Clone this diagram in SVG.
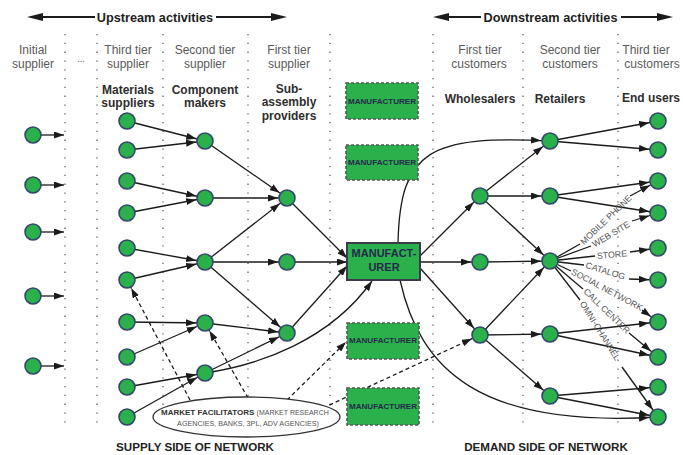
<svg xmlns="http://www.w3.org/2000/svg" width="683" height="455" viewBox="0 0 683 455">
<defs>
  <!-- arrowhead that stops at the rim of a round node (line ends at node centre) -->
  <marker id="an" markerUnits="userSpaceOnUse" markerWidth="10" markerHeight="7" refX="19" refY="3.5" orient="auto">
    <path d="M0,0L10,3.5L0,7z" fill="#1b1b1b"/>
  </marker>
  <!-- arrowhead whose tip sits exactly on the line end -->
  <marker id="ab" markerUnits="userSpaceOnUse" markerWidth="10" markerHeight="7" refX="10" refY="3.5" orient="auto">
    <path d="M0,0L10,3.5L0,7z" fill="#1b1b1b"/>
  </marker>
</defs>
<style>
  text{font-family:"Liberation Sans",Arial,Helvetica,sans-serif}
  .hd{font-size:12.7px;font-weight:bold;fill:#1e1e1e;text-anchor:middle}
  .col{font-size:12px;fill:#5a5a5a;text-anchor:middle}
  .bl{font-size:12px;font-weight:bold;fill:#2e2e2e;text-anchor:middle}
  .ft{font-size:11.6px;font-weight:bold;fill:#222;text-anchor:middle}
  .ch{font-size:8.8px;fill:#555}
  .grid line{stroke:#6d6d6d;stroke-width:1.4;stroke-dasharray:1.3 7.5}
  .c line,.c path{stroke:#1b1b1b;stroke-width:1.3;fill:none}
  .n{marker-end:url(#an)}
  .b{marker-end:url(#ab)}
  .dash{stroke-dasharray:4 3}
  .hdr line{stroke:#1b1b1b;stroke-width:1.8}
  .hdr polygon{fill:#1b1b1b}
  circle{fill:#2bb14b;stroke:#35486a;stroke-width:1.6}
  .mb{fill:#2bb14b;stroke:#555;stroke-width:1.6;stroke-dasharray:3 2}
  .mt{font-size:7.8px;font-weight:bold;fill:#26294d;text-anchor:middle}
  .mm{font-size:11px;font-weight:bold;fill:#26294d;text-anchor:middle}
</style>

<!-- header arrows -->
<g class="hdr">
  <line x1="40" y1="17" x2="95" y2="17"/>
  <polygon points="27,17 43,13 43,21"/>
  <line x1="216" y1="17" x2="274" y2="17"/>
  <polygon points="287,17 271,13 271,21"/>
  <text class="hd" x="155" y="21.5">Upstream activities</text>
  <line x1="446" y1="17" x2="481" y2="17"/>
  <polygon points="433,17 449,13 449,21"/>
  <line x1="621" y1="17" x2="660" y2="17"/>
  <polygon points="673,17 657,13 657,21"/>
  <text class="hd" x="550.5" y="21.5">Downstream activities</text>
</g>

<!-- tier separators -->
<g class="grid">
  <line x1="65" y1="34" x2="65" y2="426"/>
  <line x1="97" y1="34" x2="97" y2="426"/>
  <line x1="163" y1="34" x2="163" y2="426"/>
  <line x1="248" y1="34" x2="248" y2="426"/>
  <line x1="330" y1="34" x2="330" y2="426"/>
  <line x1="433" y1="34" x2="433" y2="426"/>
  <line x1="523" y1="34" x2="523" y2="426"/>
  <line x1="618" y1="34" x2="618" y2="426"/>
</g>

<!-- column headings -->
<g>
  <text class="col" x="33" y="53.5">Initial</text>
  <text class="col" x="33" y="68">supplier</text>
  <text class="col" x="81" y="62" style="font-size:9px">...</text>
  <text class="col" x="128" y="53.5">Third tier</text>
  <text class="col" x="128" y="68">supplier</text>
  <text class="col" x="205" y="53.5">Second tier</text>
  <text class="col" x="205" y="68">supplier</text>
  <text class="col" x="289" y="53.5">First tier</text>
  <text class="col" x="289" y="68">supplier</text>
  <text class="col" x="480" y="53.5">First tier</text>
  <text class="col" x="479" y="68">customers</text>
  <text class="col" x="570" y="53.5">Second tier</text>
  <text class="col" x="570" y="68">customers</text>
  <text class="col" x="646" y="53.5">Third tier</text>
  <text class="col" x="652" y="68">customers</text>

  <text class="bl" x="128" y="93.5">Materials</text>
  <text class="bl" x="128" y="106.5">suppliers</text>
  <text class="bl" x="205" y="93.5">Component</text>
  <text class="bl" x="205" y="106.5">makers</text>
  <text class="bl" x="289" y="92.5">Sub-</text>
  <text class="bl" x="289" y="106">assembly</text>
  <text class="bl" x="289" y="119.5">providers</text>
  <text class="bl" x="480" y="103">Wholesalers</text>
  <text class="bl" x="560" y="103">Retailers</text>
  <text class="bl" x="651" y="101.5">End users</text>
</g>

<!-- connectors -->
<g id="connectors" class="c">
  <!-- initial suppliers -->
  <line class="b" x1="33" y1="135" x2="64" y2="135"/>
  <line class="b" x1="33" y1="185" x2="64" y2="185"/>
  <line class="b" x1="33" y1="232" x2="64" y2="232"/>
  <line class="b" x1="33" y1="296" x2="64" y2="296"/>
  <line class="b" x1="33" y1="366" x2="64" y2="366"/>
  <!-- third tier to second tier -->
  <line class="n" x1="127" y1="121" x2="205" y2="141"/>
  <line class="n" x1="127" y1="150" x2="205" y2="141"/>
  <line class="n" x1="127" y1="181" x2="205" y2="198"/>
  <line class="n" x1="127" y1="213" x2="205" y2="198"/>
  <line class="n" x1="127" y1="248" x2="205" y2="262"/>
  <line class="n" x1="127" y1="280" x2="205" y2="262"/>
  <line class="n" x1="127" y1="322" x2="205" y2="323"/>
  <line class="n" x1="127" y1="357" x2="205" y2="323"/>
  <line class="n" x1="127" y1="387" x2="205" y2="373"/>
  <line class="n" x1="127" y1="417" x2="205" y2="373"/>
  <!-- second tier to first tier -->
  <line class="n" x1="205" y1="141" x2="287" y2="198"/>
  <line class="n" x1="205" y1="198" x2="287" y2="198"/>
  <line class="n" x1="205" y1="262" x2="287" y2="198"/>
  <line class="n" x1="205" y1="262" x2="287" y2="262"/>
  <line class="n" x1="205" y1="262" x2="287" y2="333"/>
  <line class="n" x1="205" y1="323" x2="287" y2="333"/>
  <line class="n" x1="205" y1="373" x2="287" y2="333"/>
  <path class="b" d="M205,373 C260,365 330,340 372,281"/>
  <!-- first tier to manufacturer -->
  <line class="b" x1="287" y1="198" x2="347" y2="258"/>
  <line class="b" x1="287" y1="262" x2="347" y2="262"/>
  <line class="b" x1="287" y1="333" x2="347" y2="266"/>
  <!-- manufacturer to customers -->
  <line class="n" x1="420" y1="256" x2="480" y2="196"/>
  <line class="n" x1="420" y1="262" x2="480" y2="262"/>
  <line class="n" x1="420" y1="268" x2="480" y2="335"/>
  <path class="n" d="M398,243 C400,150 430,135 550,141"/>
  <path class="n" d="M400,280 C420,370 480,428 658,417"/>
  <!-- wholesalers to retailers -->
  <line class="n" x1="480" y1="196" x2="550" y2="141"/>
  <line class="n" x1="480" y1="196" x2="550" y2="196"/>
  <line class="n" x1="480" y1="196" x2="550" y2="261"/>
  <line class="n" x1="480" y1="262" x2="550" y2="261"/>
  <line class="n" x1="480" y1="335" x2="550" y2="261"/>
  <line class="n" x1="480" y1="335" x2="550" y2="334"/>
  <line class="n" x1="480" y1="335" x2="550" y2="396"/>
  <!-- retailers to end users -->
  <line class="n" x1="550" y1="141" x2="658" y2="121"/>
  <line class="n" x1="550" y1="141" x2="658" y2="150"/>
  <line class="n" x1="550" y1="196" x2="658" y2="181"/>
  <line class="n" x1="550" y1="196" x2="658" y2="213"/>
  <line class="n" x1="550" y1="334" x2="658" y2="322"/>
  <line class="n" x1="550" y1="334" x2="658" y2="357"/>
  <line class="n" x1="550" y1="396" x2="658" y2="387"/>
  <line class="n" x1="550" y1="396" x2="658" y2="417"/>
  <!-- sales channels -->
  <line x1="550" y1="261" x2="580" y2="244"/>
  <line class="n" x1="630" y1="196" x2="658" y2="181"/>
  <line x1="550" y1="261" x2="591" y2="246"/>
  <line class="n" x1="632" y1="221" x2="658" y2="213"/>
  <line x1="550" y1="261" x2="595" y2="256"/>
  <line class="n" x1="630" y1="252" x2="658" y2="248"/>
  <line x1="550" y1="261" x2="584" y2="265"/>
  <line class="n" x1="629" y1="279" x2="658" y2="280"/>
  <line x1="550" y1="261" x2="571" y2="271"/>
  <line class="n" x1="642" y1="310" x2="658" y2="322"/>
  <line x1="550" y1="261" x2="583" y2="289"/>
  <line class="n" x1="629" y1="333" x2="658" y2="357"/>
  <line x1="550" y1="261" x2="580" y2="300"/>
  <line class="n" x1="622" y1="367" x2="658" y2="417"/>
  <!-- market facilitators -->
  <line class="n dash" x1="190" y1="400" x2="127" y2="280"/>
  <line class="n dash" x1="248" y1="398" x2="205" y2="323"/>
  <line class="b dash" x1="287" y1="400" x2="346" y2="342"/>
  <line class="n dash" x1="323" y1="408" x2="480" y2="335"/>
</g>

<!-- channel labels -->
<g>
  <text class="ch" transform="translate(582,243) rotate(-44)" dy="3">MOBILE PHONE</text>
  <text class="ch" transform="translate(593,245) rotate(-31)" dy="3">WEB SITE</text>
  <text class="ch" transform="translate(597,256) rotate(-5)" dy="3">STORE</text>
  <text class="ch" transform="translate(586,265) rotate(17)" dy="3">CATALOG</text>
  <text class="ch" transform="translate(572,271) rotate(28)" dy="3">SOCIAL NETWORK</text>
  <text class="ch" transform="translate(585,290) rotate(44)" dy="3">CALL CENTER</text>
  <text class="ch" transform="translate(582,302) rotate(58)" dy="3">OMNI-CHANNEL</text>
</g>

<!-- market facilitators -->
<g id="facilitators">
  <ellipse cx="246.5" cy="417" rx="93.5" ry="20" fill="#fff" stroke="#333" stroke-width="1.3"/>
  <text x="161" y="415" style="font-size:8px;font-weight:bold;fill:#333">MARKET FACILITATORS <tspan style="font-size:7px;font-weight:normal;fill:#555">(MARKET RESEARCH</tspan></text>
  <text x="248" y="425.5" style="font-size:7.2px;fill:#555;text-anchor:middle">AGENCIES, BANKS, 3PL, ADV AGENCIES)</text>
</g>

<!-- manufacturers -->
<g id="manufacturer">
  <rect x="347" y="243" width="73" height="37" fill="#2bb14b" stroke="#3a3a4a" stroke-width="2"/>
  <text class="mm" x="384" y="257">MANUFACT-</text>
  <text class="mm" x="384" y="271">URER</text>
</g>
<g id="mfr-1"><rect class="mb" x="346" y="83" width="72" height="36"/><text class="mt" x="382" y="103.5" textLength="68" lengthAdjust="spacingAndGlyphs">MANUFACTURER</text></g>
<g id="mfr-2"><rect class="mb" x="346" y="145" width="72" height="35"/><text class="mt" x="382" y="164.5" textLength="68" lengthAdjust="spacingAndGlyphs">MANUFACTURER</text></g>
<g id="mfr-3"><rect class="mb" x="347" y="323" width="72" height="36"/><text class="mt" x="383" y="343" textLength="68" lengthAdjust="spacingAndGlyphs">MANUFACTURER</text></g>
<g id="mfr-4"><rect class="mb" x="347" y="388" width="72" height="37"/><text class="mt" x="383" y="409" textLength="68" lengthAdjust="spacingAndGlyphs">MANUFACTURER</text></g>

<!-- initial suppliers -->
<g id="is-1"><circle cx="33" cy="135" r="8"/></g>
<g id="is-2"><circle cx="33" cy="185" r="8"/></g>
<g id="is-3"><circle cx="33" cy="232" r="8"/></g>
<g id="is-4"><circle cx="33" cy="296" r="8"/></g>
<g id="is-5"><circle cx="33" cy="366" r="8"/></g>
<!-- third tier suppliers -->
<g id="t3-1"><circle cx="127" cy="121" r="8"/></g>
<g id="t3-2"><circle cx="127" cy="150" r="8"/></g>
<g id="t3-3"><circle cx="127" cy="181" r="8"/></g>
<g id="t3-4"><circle cx="127" cy="213" r="8"/></g>
<g id="t3-5"><circle cx="127" cy="248" r="8"/></g>
<g id="t3-6"><circle cx="127" cy="280" r="8"/></g>
<g id="t3-7"><circle cx="127" cy="322" r="8"/></g>
<g id="t3-8"><circle cx="127" cy="357" r="8"/></g>
<g id="t3-9"><circle cx="127" cy="387" r="8"/></g>
<g id="t3-10"><circle cx="127" cy="417" r="8"/></g>
<!-- second tier suppliers -->
<g id="t2-1"><circle cx="205" cy="141" r="8"/></g>
<g id="t2-2"><circle cx="205" cy="198" r="8"/></g>
<g id="t2-3"><circle cx="205" cy="262" r="8"/></g>
<g id="t2-4"><circle cx="205" cy="323" r="8"/></g>
<g id="t2-5"><circle cx="205" cy="373" r="8"/></g>
<!-- first tier suppliers -->
<g id="t1-1"><circle cx="287" cy="198" r="8"/></g>
<g id="t1-2"><circle cx="287" cy="262" r="8"/></g>
<g id="t1-3"><circle cx="287" cy="333" r="8"/></g>
<!-- wholesalers -->
<g id="ws-1"><circle cx="480" cy="196" r="8"/></g>
<g id="ws-2"><circle cx="480" cy="262" r="8"/></g>
<g id="ws-3"><circle cx="480" cy="335" r="8"/></g>
<!-- retailers -->
<g id="rt-1"><circle cx="550" cy="141" r="8"/></g>
<g id="rt-2"><circle cx="550" cy="196" r="8"/></g>
<g id="rt-3"><circle cx="550" cy="261" r="8"/></g>
<g id="rt-4"><circle cx="550" cy="334" r="8"/></g>
<g id="rt-5"><circle cx="550" cy="396" r="8"/></g>
<!-- end users -->
<g id="eu-1"><circle cx="658" cy="121" r="8"/></g>
<g id="eu-2"><circle cx="658" cy="150" r="8"/></g>
<g id="eu-3"><circle cx="658" cy="181" r="8"/></g>
<g id="eu-4"><circle cx="658" cy="213" r="8"/></g>
<g id="eu-5"><circle cx="658" cy="248" r="8"/></g>
<g id="eu-6"><circle cx="658" cy="280" r="8"/></g>
<g id="eu-7"><circle cx="658" cy="322" r="8"/></g>
<g id="eu-8"><circle cx="658" cy="357" r="8"/></g>
<g id="eu-9"><circle cx="658" cy="387" r="8"/></g>
<g id="eu-10"><circle cx="658" cy="417" r="8"/></g>

<!-- footers -->
<text class="ft" x="195" y="451">SUPPLY SIDE OF NETWORK</text>
<text class="ft" x="546" y="451">DEMAND SIDE OF NETWORK</text>
</svg>
